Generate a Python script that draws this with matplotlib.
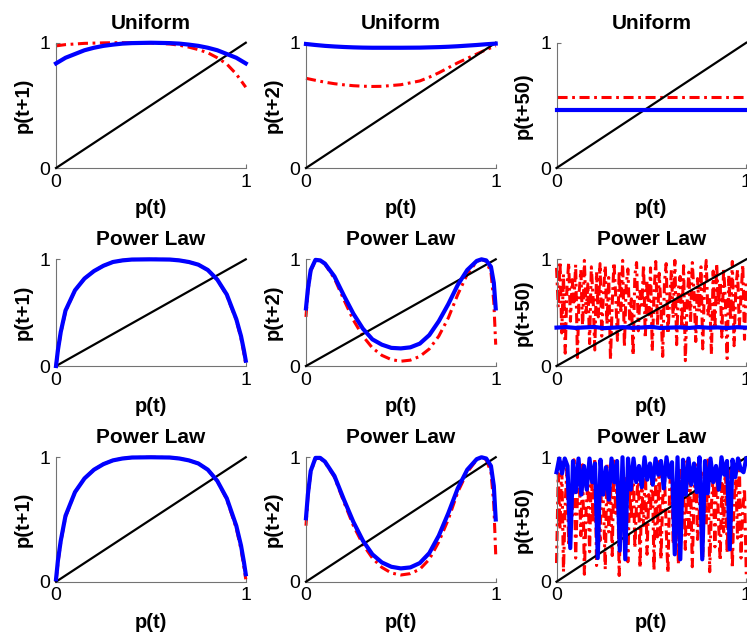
import numpy as np
import matplotlib
matplotlib.use("Agg")
import matplotlib.pyplot as plt

plt.rcParams['font.family'] = ['Liberation Sans', 'DejaVu Sans']

# --- data ---
xu = [0, 0.05, 0.1, 0.15, 0.2, 0.25, 0.3, 0.35, 0.4, 0.5, 0.6, 0.65, 0.7, 0.75, 0.8, 0.85, 0.9, 0.95, 1.0]
u1_blue = [0.835, 0.88, 0.91, 0.94, 0.96, 0.975, 0.985, 0.993, 0.997, 1.0, 0.997, 0.993, 0.985, 0.975, 0.96, 0.94, 0.91, 0.88, 0.835]
u1_red = [0.975, 0.985, 0.99, 0.995, 0.997, 0.999, 1.0, 1.0, 1.0, 0.998, 0.99, 0.98, 0.965, 0.945, 0.92, 0.88, 0.83, 0.75, 0.645]
u2_blue = [0.99, 0.982, 0.975, 0.97, 0.966, 0.963, 0.961, 0.96, 0.96, 0.96, 0.961, 0.963, 0.965, 0.968, 0.972, 0.977, 0.982, 0.988, 0.993]
u2_red = [0.716, 0.70, 0.685, 0.673, 0.664, 0.657, 0.653, 0.651, 0.652, 0.665, 0.695, 0.725, 0.76, 0.80, 0.84, 0.875, 0.91, 0.945, 0.975]
u50_blue = [0.465, 0.465]
u50_red = [0.57, 0.57]

xp1 = [0, 0.01, 0.025, 0.05, 0.1, 0.15, 0.2, 0.25, 0.3, 0.35, 0.4, 0.5, 0.6, 0.65, 0.7, 0.75, 0.8, 0.85, 0.9, 0.95, 0.975, 0.99, 1.0]
pa1_blue = [0.0, 0.15, 0.32, 0.52, 0.71, 0.82, 0.89, 0.94, 0.975, 0.99, 0.998, 1.0, 0.998, 0.99, 0.975, 0.95, 0.90, 0.81, 0.67, 0.44, 0.28, 0.15, 0.05]
pa1_red = [0.0, 0.14, 0.31, 0.51, 0.71, 0.82, 0.89, 0.94, 0.975, 0.99, 0.998, 1.0, 0.998, 0.99, 0.975, 0.95, 0.90, 0.81, 0.66, 0.43, 0.26, 0.12, 0.02]
pb1_blue = [0.02, 0.17, 0.33, 0.53, 0.72, 0.83, 0.90, 0.945, 0.975, 0.99, 0.998, 1.0, 0.998, 0.99, 0.975, 0.95, 0.90, 0.81, 0.67, 0.45, 0.29, 0.16, 0.06]
pb1_red = [0.0, 0.15, 0.32, 0.52, 0.72, 0.83, 0.90, 0.945, 0.975, 0.99, 0.998, 1.0, 0.998, 0.99, 0.975, 0.95, 0.90, 0.81, 0.66, 0.43, 0.26, 0.12, 0.02]

xp2 = [0, 0.01, 0.025, 0.05, 0.075, 0.1, 0.15, 0.2, 0.25, 0.3, 0.35, 0.4, 0.45, 0.5, 0.55, 0.6, 0.65, 0.7, 0.75, 0.8, 0.85, 0.9, 0.925, 0.95, 0.975, 0.99, 1.0]
pa2_blue = [0.54, 0.72, 0.90, 0.995, 0.99, 0.96, 0.84, 0.66, 0.49, 0.35, 0.25, 0.2, 0.17, 0.165, 0.175, 0.21, 0.29, 0.42, 0.58, 0.76, 0.90, 0.985, 1.0, 0.99, 0.93, 0.78, 0.54]
pa2_red = [0.46, 0.70, 0.89, 0.99, 0.99, 0.955, 0.82, 0.62, 0.43, 0.28, 0.17, 0.10, 0.06, 0.045, 0.055, 0.09, 0.16, 0.28, 0.45, 0.67, 0.86, 0.98, 1.0, 0.98, 0.88, 0.60, 0.20]
pb2_blue = [0.51, 0.70, 0.89, 0.995, 0.995, 0.965, 0.85, 0.66, 0.48, 0.33, 0.22, 0.155, 0.12, 0.107, 0.115, 0.15, 0.23, 0.37, 0.55, 0.75, 0.90, 0.985, 1.0, 0.99, 0.93, 0.77, 0.50]
pb2_red = [0.45, 0.68, 0.88, 0.99, 0.99, 0.96, 0.84, 0.64, 0.45, 0.30, 0.19, 0.115, 0.07, 0.054, 0.065, 0.10, 0.18, 0.32, 0.50, 0.72, 0.88, 0.98, 1.0, 0.98, 0.88, 0.62, 0.22]

pa50_blue = [0.36, 0.365, 0.357, 0.362, 0.366, 0.355, 0.36, 0.364, 0.358, 0.361, 0.367,
             0.356, 0.36, 0.363, 0.357, 0.365, 0.359, 0.362, 0.356, 0.364, 0.36]
pa50_red = [0.92, 0.55, 0.98, 0.31, 0.86, 0.12, 0.74, 0.97, 0.42, 0.81,
            0.60, 0.95, 0.08, 0.69, 0.90, 0.35, 0.99, 0.50, 0.77, 0.21,
            0.93, 0.64, 0.15, 0.88, 0.46, 0.96, 0.28, 0.71, 0.94, 0.39,
            0.83, 0.06, 0.58, 0.97, 0.66, 0.24, 0.89, 0.52, 0.99, 0.18,
            0.75, 0.91, 0.44, 0.63, 0.10, 0.85, 0.97, 0.33, 0.70, 0.57,
            0.95, 0.26, 0.80, 0.48, 0.92, 0.14, 0.67, 0.98, 0.38, 0.87,
            0.54, 0.09, 0.78, 0.96, 0.30, 0.61, 0.90, 0.45, 0.99, 0.20,
            0.72, 0.84, 0.36, 0.94, 0.05, 0.59, 0.88, 0.41, 0.97, 0.68,
            0.23, 0.82, 0.51, 0.93, 0.16, 0.76, 0.99, 0.47, 0.65, 0.11,
            0.89, 0.34, 0.96, 0.57, 0.79, 0.27, 0.92, 0.62, 0.07, 0.85,
            0.43, 0.98, 0.19, 0.73, 0.90, 0.37, 0.66, 0.95, 0.25, 0.81]

pb50_blue = [0.88, 0.99, 0.87, 0.99, 0.93, 0.27, 0.97, 0.72, 0.99, 0.70,
             0.93, 0.74, 0.99, 0.80, 0.95, 0.19, 0.98, 0.70, 0.92, 0.66,
             0.99, 0.80, 0.97, 0.25, 1.00, 0.18, 0.99, 0.74, 0.99, 0.80,
             0.93, 0.76, 1.00, 0.82, 0.95, 0.78, 0.99, 0.86, 0.97, 0.75,
             1.00, 0.84, 0.96, 0.22, 1.00, 0.18, 0.98, 0.70, 0.99, 0.78,
             0.95, 0.72, 1.00, 0.18, 0.97, 0.71, 0.99, 0.80, 0.93, 0.74,
             1.00, 0.86, 0.97, 0.26, 0.98, 0.84, 0.99, 0.90, 0.88, 0.99]
pb50_red = [0.15, 0.87, 0.42, 0.96, 0.08, 0.63, 0.91, 0.29, 0.75, 0.53,
            0.98, 0.19, 0.68, 0.85, 0.37, 0.94, 0.06, 0.58, 0.80, 0.24,
            0.90, 0.47, 0.99, 0.13, 0.72, 0.33, 0.88, 0.61, 0.10, 0.95,
            0.40, 0.78, 0.21, 0.97, 0.55, 0.86, 0.05, 0.67, 0.92, 0.31,
            0.83, 0.16, 0.74, 0.50, 0.98, 0.27, 0.64, 0.89, 0.11, 0.79,
            0.45, 0.96, 0.22, 0.70, 0.57, 0.93, 0.09, 0.82, 0.36, 0.99,
            0.18, 0.66, 0.87, 0.43, 0.07, 0.76, 0.95, 0.30, 0.60, 0.84,
            0.14, 0.91, 0.49, 0.73, 0.26, 0.97, 0.38, 0.81, 0.12, 0.69,
            0.94, 0.34, 0.56, 0.88, 0.20, 0.77, 0.46, 0.99, 0.08, 0.62,
            0.85, 0.28, 0.92, 0.51, 0.17, 0.79, 0.40, 0.96, 0.23, 0.71,
            0.90, 0.11, 0.65, 0.83, 0.35, 0.98, 0.19, 0.58, 0.75, 0.06]

titles = ['Uniform', 'Power Law', 'Power Law']
ylabels = ['p(t+1)', 'p(t+2)', 'p(t+50)']

panels = [
    [(xu, u1_blue, xu, u1_red), (xu, u2_blue, xu, u2_red), ([0, 1], u50_blue, [0, 1], u50_red)],
    [(xp1, pa1_blue, xp1, pa1_red), (xp2, pa2_blue, xp2, pa2_red),
     (np.linspace(0, 1, len(pa50_blue)), pa50_blue, np.linspace(0, 1, len(pa50_red)), pa50_red)],
    [(xp1, pb1_blue, xp1, pb1_red), (xp2, pb2_blue, xp2, pb2_red),
     (np.linspace(0, 1, len(pb50_blue)), pb50_blue, np.linspace(0, 1, len(pb50_red)), pb50_red)],
]

fig = plt.figure(figsize=(7.47, 6.35), dpi=100)

lefts = [0.075, 0.4096, 0.745]
width = 0.254
rows = [(0.7354, 0.1973), (0.4236, 0.168), (0.0839, 0.196)]

for r in range(3):
    bottom, height = rows[r]
    for c in range(3):
        ax = fig.add_axes([lefts[c], bottom, width, height])
        xb, yb, xr, yr = panels[r][c]
        ax.plot([0, 1], [0, 1], color='black', lw=1.6, clip_on=False, zorder=3)
        ax.plot(xr, yr, color='red', lw=2.2, clip_on=False, zorder=2,
                dashes=(3.3, 1.5, 0.9, 1.5))
        ax.plot(xb, yb, color='blue', lw=3.0, clip_on=False, zorder=4)
        ax.set_xlim(0, 1)
        ax.set_ylim(0, 1)
        ax.set_xticks([0, 1])
        ax.set_yticks([0, 1])
        ax.set_xticklabels(['0', '1'])
        ax.set_yticklabels(['0', '1'])
        for s in ['top', 'right']:
            ax.spines[s].set_visible(False)
        for s in ['left', 'bottom']:
            ax.spines[s].set_color('0.45')
            ax.spines[s].set_linewidth(0.8)
        ax.tick_params(direction='in', length=3, width=0.8, color='0.45',
                       labelsize=14, pad=4)
        ax.set_title(titles[r], fontsize=15, fontweight='bold', pad=10)
        ax.set_xlabel('p(t)', fontsize=14.5, fontweight='bold', labelpad=6)
        ax.set_ylabel(ylabels[c], fontsize=14.5, fontweight='bold', labelpad=5)

fig.savefig('out.png', dpi=100)
